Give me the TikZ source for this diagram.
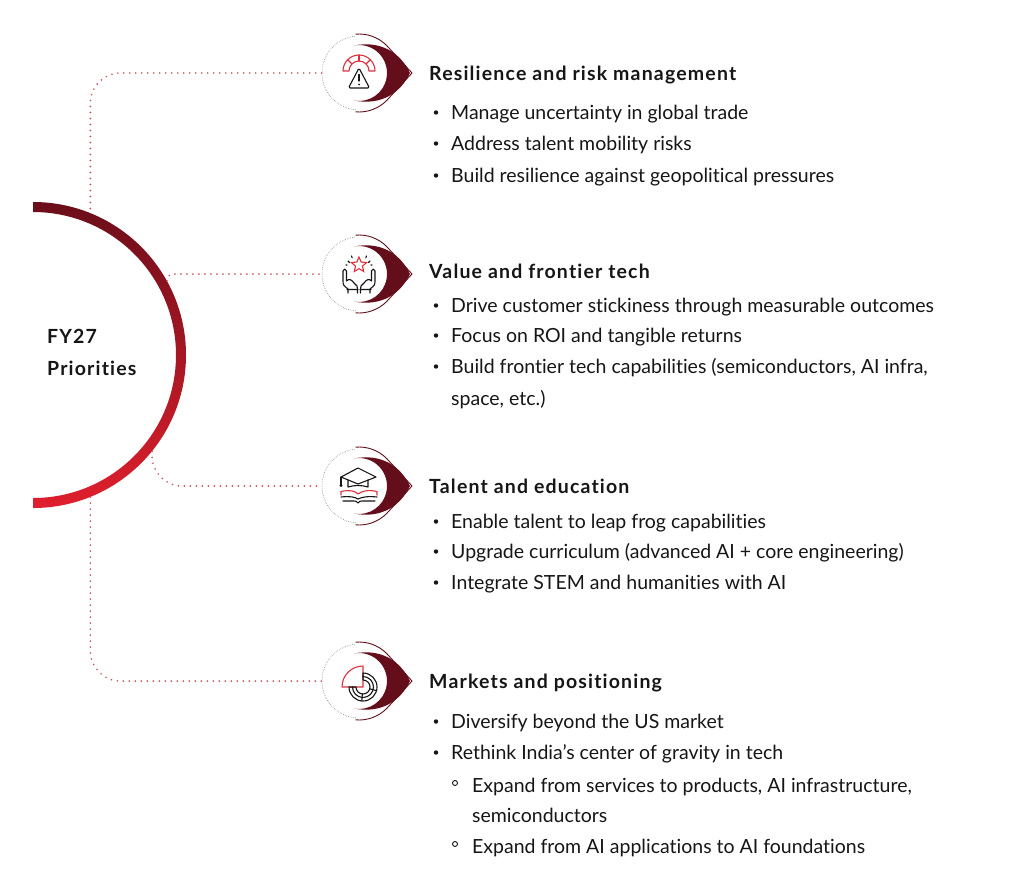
\documentclass[tikz,border=0pt]{standalone}
\usepackage{fontspec}
\setmainfont{Lato}[RawFeature={-liga}]
\newfontfamily\headfont{Lato}[BoldFont={* Bold}, LetterSpace=6, RawFeature={-liga}]
\usepackage{tikz}
\usetikzlibrary{shapes.geometric}

\definecolor{arcdark}{HTML}{6B0E1A}
\definecolor{arcred}{HTML}{E01F2D}
\definecolor{badgered}{HTML}{640D1B}
\definecolor{dotred}{HTML}{C4505A}
\definecolor{iconred}{HTML}{E0303C}
\definecolor{inkblack}{HTML}{161616}

\tikzset{
  badge/.pic={
    \fill[badgered] (-100:28) .. controls (-55:40) and (-25:46) .. (51,0)
      .. controls (25:46) and (55:40) .. (100:28)
      arc[start angle=100, end angle=-100, radius=28] -- cycle;
    \draw[badgered, line width=0.9] (-95:39) arc[start angle=-95, end angle=-45, radius=39]
      -- (53,0) -- (45:39) arc[start angle=45, end angle=95, radius=39];
    \draw[gray, line width=0.6, dash pattern=on 0.6pt off 1.2pt]
      (95:37) arc[start angle=95, end angle=265, radius=37];
  }
}

\begin{document}
\begin{tikzpicture}
  [x=1pt, y=-1pt,
   head/.style={anchor=base west, inner sep=0, text=inkblack,
     font=\headfont\bfseries\fontsize{19.5}{23}\selectfont},
   item/.style={anchor=base west, inner sep=0, text=inkblack,
     font=\fontsize{19.5}{23}\selectfont},
   link/.style={dotred, line width=1.8, line cap=round, dash pattern=on 0pt off 6pt},
   spot/.style={circle, minimum size=74pt, inner sep=0},
   ink/.style={inkblack, line width=1.1, line join=round, line cap=round},
   redink/.style={iconred, line width=1.1, line join=round, line cap=round}]

  \fill[white] (0,0) rectangle (1024,873);
  \useasboundingbox (0,0) rectangle (1024,873);

  % hub arc
  \node[circle, minimum size=306pt, inner sep=0] (hub) at (33,355) {};
  \shade[top color=arcdark, bottom color=arcred]
    (33,202) arc[start angle=-90, end angle=90, radius=153]
    -- (33,498) arc[start angle=90, end angle=-90, radius=143] -- cycle;
  \node[head] (fy) at (47,343) {FY27};
  \node[head] (pr) at (47,375) {Priorities};

  % badges
  \node[spot] (b1) at (359,73)  {};
  \node[spot] (b2) at (359,274) {};
  \node[spot] (b3) at (359,486) {};
  \node[spot] (b4) at (359,681) {};

  \draw[link, rounded corners=30] (b1.west) -| (hub.68);
  \draw[link, rounded corners=6]  (hub.29) |- (b2.west);
  \draw[link, rounded corners=30] (hub.-39) |- (b3.west);
  \draw[link, rounded corners=30] (hub.-68) |- (b4.west);

  \foreach \n in {1,...,4}
    \pic at (b\n.center) {badge};

  % icon: gauge and warning
  \begin{scope}[shift={(b1.center)}]
    \draw[redink] (-16,-2) arc[start angle=180, end angle=360, radius=16]
      -- (10,-2) arc[start angle=360, end angle=180, radius=10] -- cycle;
    \foreach \a in {225,270,315}
      \draw[redink] (0,-2) ++(\a:10) -- ++(\a:6);
    \draw[white, line width=3.5, rounded corners=1.5] (0,-5) -- (10.5,15) -- (-10.5,15) -- cycle;
    \filldraw[ink, fill=white, rounded corners=1.5] (0,-5) -- (10.5,15) -- (-10.5,15) -- cycle;
    \draw[ink] (0,1.5) -- (0,8);
    \fill[inkblack] (0,11.5) circle (1);
  \end{scope}

  % icon: hands and star
  \begin{scope}[shift={(b2.center)}]
    \node[star, star points=5, star point ratio=2.2, draw=iconred, line width=1.1,
      minimum size=16pt, inner sep=0] (st) at (0,-9) {};
    \foreach \s in {1,-1} {
      \draw[ink, xscale=\s] (-11,-13) -- (-9.5,-11.5) (-7.5,-18) -- (-6.8,-16.2)
        (-13,-9) -- (-12,-9);
      \draw[ink, xscale=\s] (-11,19) -- (-11,15) .. controls (-16,11) .. (-16,6)
        -- (-16,-3) .. controls (-16,-5.5) and (-12.5,-5.5) .. (-12.5,-3) -- (-12.5,7)
        (-12.5,7) .. controls (-10,4) and (-7,6) .. (-5,9) -- (-2,12)
        .. controls (-1,13) and (-1,14) .. (-1.5,15) -- (-1.5,19)
        (-12,15.5) -- (-1,15.5);
    }
  \end{scope}

  % icon: cap and book
  \begin{scope}[shift={(b3.center)}]
    \filldraw[ink, fill=white] (-18,-9) -- (-1,-18) -- (17,-9) -- (-1,-2) -- cycle;
    \draw[ink] (-11,-6) -- (-11,1) .. controls (-5,-1) and (3,-1) .. (9,1) -- (9,-6);
    \draw[ink] (-18,-9) -- (-18,-1);
    \fill[inkblack] (-18,-0.5) circle (1.6);
    \draw[redink] (-18,9) -- (-18,5.5) .. controls (-9,3.5) and (-4,5) .. (-1,8)
      .. controls (3,5) and (9,3.5) .. (18,5.5) -- (18,9);
    \draw[ink] (-18,11) .. controls (-9,10) and (-4,11) .. (-1,13)
      .. controls (3,11) and (9,10) .. (18,11);
    \draw[ink] (-16,15) -- (-5,15) .. controls (-3,15) .. (-1,17)
      .. controls (1,15) .. (3,15) -- (16,15);
  \end{scope}

  % icon: pie chart
  \begin{scope}[shift={(b4.center)}]
    \draw[redink] (4,6) -- (-17,6) arc[start angle=180, end angle=270, radius=21] -- cycle;
    \draw[ink] (4,-8) arc[start angle=-90, end angle=180, radius=14]
      -- (-3,6) arc[start angle=180, end angle=-90, radius=7] -- cycle;
    \foreach \a in {15,95}
      \draw[ink] (4,6) ++(\a:7) -- ++(\a:7);
    \draw[ink] (4,-4.5) arc[start angle=-90, end angle=180, radius=10.5];
  \end{scope}

  % texts
  \node[head] (h1) at (429,80)  {Resilience and risk management};
  \node[head] (h2) at (429,278) {Value and frontier tech};
  \node[head] (h3) at (429,493) {Talent and education};
  \node[head] (h4) at (429,688) {Markets and positioning};

  \foreach \y/\t [count=\i] in {119/Manage uncertainty in global trade,
      150/Address talent mobility risks,
      182/Build resilience against geopolitical pressures,
      312/Drive customer stickiness through measurable outcomes,
      342/Focus on ROI and tangible returns,
      373/{Build frontier tech capabilities (semiconductors, AI infra,},
      528/Enable talent to leap frog capabilities,
      558/Upgrade curriculum (advanced AI + core engineering),
      589/Integrate STEM and humanities with AI,
      728/Diversify beyond the US market,
      759/Rethink India’s center of gravity in tech} {
    \fill[inkblack] (436,\y-6.5) circle (2.2);
    \node[item] (t\i) at (451,\y) {\t};
  }
  \node[item] (t2b) at (451,405) {space, etc.)};

  \foreach \y/\t [count=\i] in {792/{Expand from services to products, AI infrastructure,},
      853/Expand from AI applications to AI foundations} {
    \draw[ink, line width=0.9] (455,\y-9) circle (2.5);
    \node[item] (s\i) at (472,\y) {\t};
  }
  \node[item] (s1b) at (472,822) {semiconductors};

\end{tikzpicture}
\end{document}
